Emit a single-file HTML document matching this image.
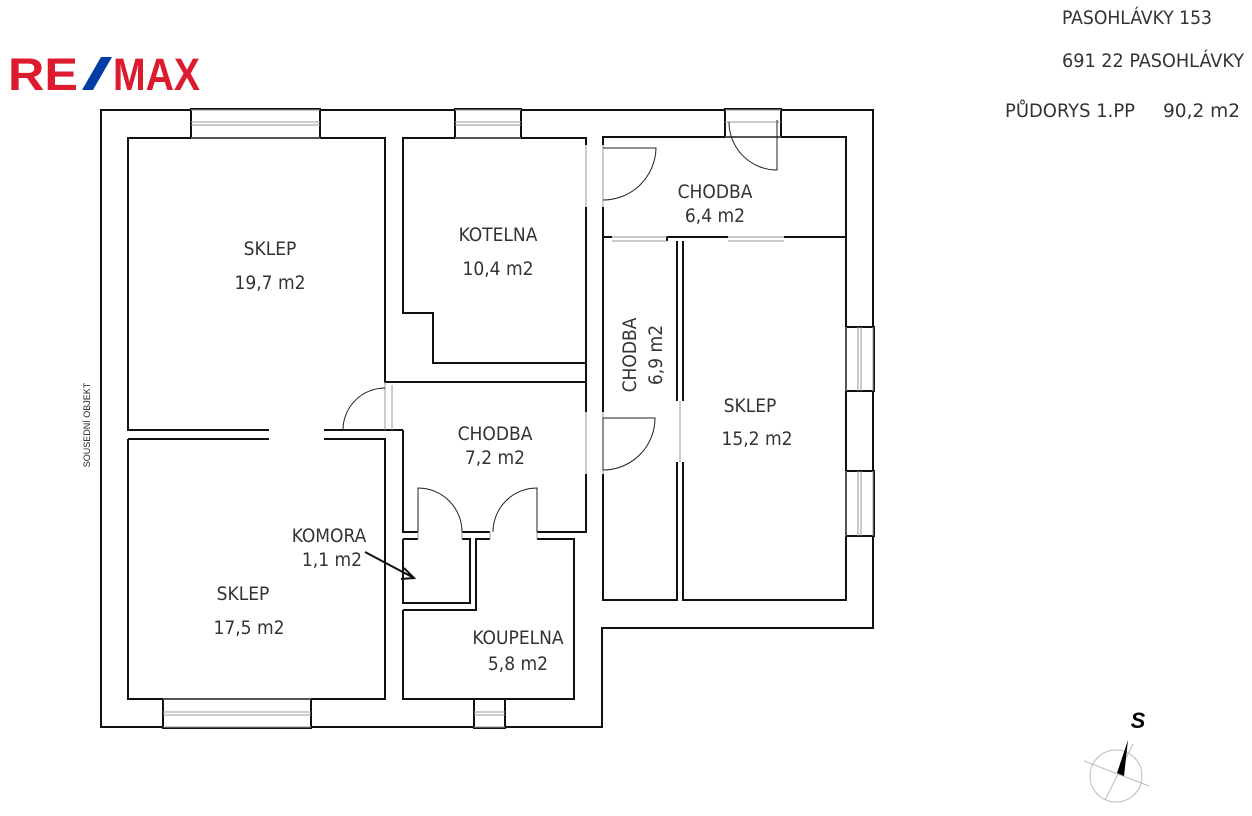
<!DOCTYPE html>
<html><head><meta charset="utf-8"><style>
html,body{margin:0;padding:0;background:#fff;}
svg{display:block;}
.t{font-family:"DejaVu Sans Condensed","Liberation Sans",sans-serif;font-size:19px;fill:#333;text-anchor:middle;font-weight:300;}
</style></head><body>
<svg width="1252" height="816" viewBox="0 0 1252 816" xmlns="http://www.w3.org/2000/svg">
<rect width="1252" height="816" fill="#fff"/>
<!-- logo -->
<text x="8" y="90" font-family="Liberation Sans,sans-serif" font-weight="bold" font-size="45" fill="#dc1c2e" textLength="70" lengthAdjust="spacingAndGlyphs">RE</text>
<polygon points="82,90 93,90 112,57 101,57" fill="#003da5"/>
<text x="113" y="90" font-family="Liberation Sans,sans-serif" font-weight="bold" font-size="45" fill="#dc1c2e" textLength="87" lengthAdjust="spacingAndGlyphs">MAX</text>
<!-- header -->
<g font-family="DejaVu Sans Condensed,Liberation Sans,sans-serif" font-size="19" fill="#333">
<text x="1062" y="24" textLength="150" lengthAdjust="spacingAndGlyphs">PASOHLÁVKY  153</text>
<text x="1062" y="67" textLength="182" lengthAdjust="spacingAndGlyphs">691  22  PASOHLÁVKY</text>
<text x="1005" y="117" textLength="130" lengthAdjust="spacingAndGlyphs">PŮDORYS  1.PP</text>
<text x="1163" y="117" textLength="77" lengthAdjust="spacingAndGlyphs">90,2  m2</text>
</g>
<g fill="none" stroke="#111" stroke-width="2">
<polygon points="101,110 873,110 873,628 602,628 602,727 101,727"/>
<path d="M269,430 H128 V138 H385 V382 H586 V363 H433 V313 H403 V138 H586 V145 M586,207 V412"/>
<path d="M603,145 V137 H725 M781,137 H846 V241 M603,207 V412 M603,474 V600 H677 V462 M677,401 V241 M683,241 V401 M683,462 V600 H846 V241"/>
<path d="M603,241 V237 H612 M667,241 V237 H728 M784,237 H846"/>
<path d="M324,430 H403 M128,439 H269 M324,439 H385 V699 H128 V439"/>
<path d="M403,430 V532 H418 M462,532 H490 M537,532 H586 V474"/>
<path d="M403,539 H418 M462,539 H470 V603 H403 V539"/>
<path d="M403,610 H476 V539 H490 M537,539 H574 V699 H403 V610"/>
</g>
<!-- windows -->
<g fill="#fff" stroke="#111" stroke-width="2">
<rect x="191" y="109" width="129" height="29"/>
<rect x="455" y="109" width="66" height="29"/>
<rect x="725" y="109" width="56" height="28"/>
<rect x="846" y="327" width="28" height="64"/>
<rect x="846" y="471" width="28" height="65"/>
<rect x="163" y="699" width="148" height="29"/>
<rect x="474" y="699" width="31" height="29"/>
</g>
<g fill="none" stroke="#999" stroke-width="1">
<path d="M191,110 H320 M191,122 H320 M191,125 H320 M191,138 H320"/>
<path d="M455,110 H521 M455,122 H521 M455,125 H521 M455,138 H521"/>
<path d="M725,110 H781 M725,122 H781 M725,137 H781"/>
<path d="M873,327 V391 M858,327 V391 M861,327 V391 M846,327 V391"/>
<path d="M873,471 V536 M858,471 V536 M861,471 V536 M846,471 V536"/>
<path d="M163,727 H311 M163,712 H311 M163,715 H311 M163,699 H311"/>
<path d="M474,727 H505 M474,712 H505 M474,715 H505"/>
<path d="M612,241 H667 M728,241 H784 M612,237 H667 M728,237 H784"/>
<path d="M586,145 V207 M603,145 V207 M586,412 V474 M603,412 V474 M385,382 V430 M392,385 V430 M680,401 V462"/>
<path d="M418,532 V539 M462,532 V539 M490,532 V539 M537,532 V539"/>
</g>
<!-- doors -->
<g fill="none" stroke="#222" stroke-width="1">
<path d="M603,148 H656 A53,53 0 0 1 603,200"/>
<path d="M777,120 V170 A48,48 0 0 1 729,122"/>
<path d="M603,470 V418 H655 A52,52 0 0 1 603,470"/>
<path d="M385,388 A42,42 0 0 0 343,430 H385"/>
<path d="M418,532 V488 A44,44 0 0 1 462,532"/>
<path d="M537,532 V488 A44,44 0 0 0 493,532"/>
</g>
<!-- labels -->
<g class="t">
<text x="270" y="255">SKLEP</text><text x="270" y="289">19,7  m2</text>
<text x="498" y="241">KOTELNA</text><text x="498" y="275">10,4  m2</text>
<text x="715" y="198">CHODBA</text><text x="715" y="222">6,4  m2</text>
<text x="750" y="412">SKLEP</text><text x="757" y="445">15,2  m2</text>
<text x="495" y="440">CHODBA</text><text x="495" y="464">7,2  m2</text>
<text x="329" y="542">KOMORA</text><text x="332" y="566">1,1  m2</text>
<text x="243" y="600">SKLEP</text><text x="249" y="634">17,5  m2</text>
<text x="518" y="644">KOUPELNA</text><text x="518" y="670">5,8  m2</text>
<text transform="translate(636,355) rotate(-90)">CHODBA</text>
<text transform="translate(662,355) rotate(-90)">6,9  m2</text>
</g>
<text transform="translate(90,425) rotate(-90)" font-family="Liberation Sans,sans-serif" font-size="9" fill="#222" text-anchor="middle">SOUSEDNÍ  OBJEKT</text>
<!-- arrow -->
<path d="M365,552 L414,578 M404,568 L414,578 L401,579" fill="none" stroke="#111" stroke-width="2"/>
<!-- compass -->
<circle cx="1116" cy="776" r="26" fill="none" stroke="#bbb" stroke-width="1"/>
<path d="M1084,761 L1149,786 M1133,744 L1105,800" stroke="#bbb" stroke-width="1"/>
<polygon points="1128,740 1124,776 1117,773" fill="#000"/>
<text x="1138" y="728" font-family="Liberation Sans,sans-serif" font-weight="bold" font-style="italic" font-size="22" fill="#000" text-anchor="middle">S</text>
</svg>
</body></html>
